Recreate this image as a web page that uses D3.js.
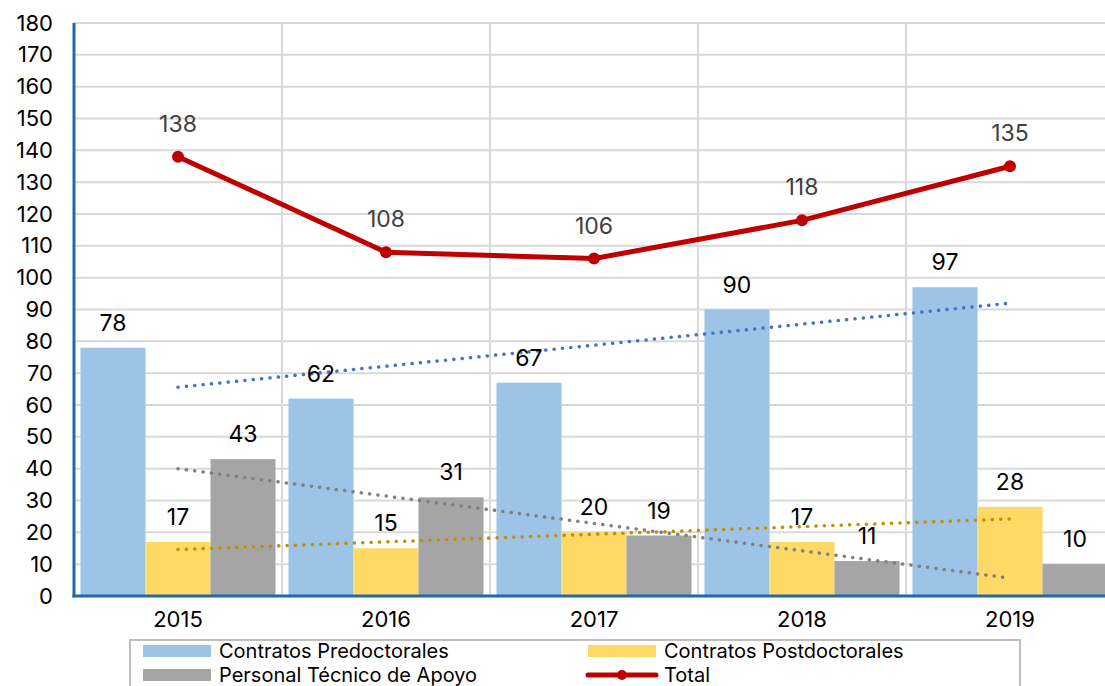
<!DOCTYPE html>
<html>
<head>
<meta charset="utf-8">
<script src="https://cdn.jsdelivr.net/npm/d3@7/dist/d3.min.js"></script>
<style>
  body { margin: 0; background: #fff; }
  text { font-family: Inter, "Noto Sans", sans-serif; }
</style>
</head>
<body>
<svg id="chart" width="1105" height="686"></svg>
<script>
// chart data
var years = ["2015", "2016", "2017", "2018", "2019"];
var predoc = [78, 62, 67, 90, 97];
var postdoc = [17, 15, 20, 17, 28];
var tecnico = [43, 31, 19, 11, 10];
var total = [138, 108, 106, 118, 135];
var yTicks = d3.range(0, 181, 10);

var FONT = "Inter, 'Noto Sans', sans-serif";

var series = [
  { name: "Contratos Predoctorales", values: predoc, color: "#9DC3E6", trend: "#4472C4" },
  { name: "Contratos Postdoctorales", values: postdoc, color: "#FFD966", trend: "#BF9000" },
  { name: "Personal Técnico de Apoyo", values: tecnico, color: "#A5A5A5", trend: "#7F7F7F" }
];

var svg = d3.select("#chart");
var mLeft = 74, mTop = 23, mBottom = 596, mRight = 1114;

var x = d3.scaleBand().domain(years).range([mLeft, mRight]);
var xInner = d3.scaleBand().domain([0, 1, 2])
  .range([0, x.bandwidth()]).paddingOuter(0.1);
var y = d3.scaleLinear().domain([0, 180]).range([mBottom, mTop]);

// grid
var grid = svg.append("g");
grid.selectAll(".hg").data(yTicks.slice(1)).enter().append("line")
  .attr("x1", mLeft).attr("x2", 1105)
  .attr("y1", function (d) { return y(d); }).attr("y2", function (d) { return y(d); })
  .attr("stroke", "#D9D9D9").attr("stroke-width", 2);
grid.selectAll(".vg").data(years.slice(1)).enter().append("line")
  .attr("x1", function (d) { return x(d); }).attr("x2", function (d) { return x(d); })
  .attr("y1", mTop).attr("y2", mBottom)
  .attr("stroke", "#D9D9D9").attr("stroke-width", 2);

// bars
series.forEach(function (s, si) {
  var g = svg.append("g");
  g.selectAll("rect").data(s.values).enter().append("rect")
    .attr("x", function (d, i) { return x(years[i]) + xInner(si); })
    .attr("width", xInner.bandwidth())
    .attr("y", function (d) { return y(d); })
    .attr("height", function (d) { return mBottom - y(d); })
    .attr("fill", s.color);
});

// linear trendlines
series.forEach(function (s) {
  var n = s.values.length;
  var mx = (n - 1) / 2, my = d3.mean(s.values);
  var num = 0, den = 0;
  s.values.forEach(function (v, i) { num += (i - mx) * (v - my); den += (i - mx) * (i - mx); });
  var slope = num / den;
  var fit = function (i) { return my + slope * (i - mx); };
  svg.append("line")
    .attr("x1", x(years[0]) + x.bandwidth() / 2).attr("y1", y(fit(0)))
    .attr("x2", x(years[n - 1]) + x.bandwidth() / 2).attr("y2", y(fit(n - 1)))
    .attr("stroke", s.trend).attr("stroke-width", 3.5)
    .attr("stroke-linecap", "round").attr("stroke-dasharray", "0.1 8.3");
});

// bar labels
series.forEach(function (s, si) {
  svg.append("g").selectAll("text").data(s.values).enter().append("text")
    .attr("x", function (d, i) { return x(years[i]) + xInner(si) + xInner.bandwidth() / 2; })
    .attr("y", function (d) { return y(d) - 17; })
    .attr("text-anchor", "middle").attr("font-size", 23).attr("fill", "#000")
    .text(function (d) { return d; });
});

// total line
var cx = function (d, i) { return x(years[i]) + x.bandwidth() / 2; };
svg.append("path").datum(total)
  .attr("d", d3.line().x(cx).y(function (d) { return y(d); }))
  .attr("fill", "none").attr("stroke", "#C00000").attr("stroke-width", 5)
  .attr("stroke-linejoin", "round");
svg.append("g").selectAll("circle").data(total).enter().append("circle")
  .attr("cx", cx).attr("cy", function (d) { return y(d); }).attr("r", 6)
  .attr("fill", "#C00000");
svg.append("g").selectAll("text").data(total).enter().append("text")
  .attr("x", cx).attr("y", function (d) { return y(d) - 25; })
  .attr("text-anchor", "middle").attr("font-size", 23).attr("fill", "#404040")
  .text(function (d) { return d; });

// axes
var yAxis = svg.append("g").attr("transform", "translate(" + mLeft + ",0)")
  .call(d3.axisLeft(y).tickValues(yTicks).tickSize(0).tickPadding(21));
yAxis.select(".domain").remove();
yAxis.selectAll("text").attr("font-size", 22).attr("fill", "#000").style("font-family", FONT);
var xAxis = svg.append("g").attr("transform", "translate(0," + mBottom + ")")
  .call(d3.axisBottom(x).tickSize(0).tickPadding(15));
xAxis.select(".domain").remove();
xAxis.selectAll("text").attr("font-size", 22).attr("fill", "#000").style("font-family", FONT);

svg.append("line").attr("x1", mLeft).attr("x2", mLeft).attr("y1", mTop).attr("y2", mBottom + 1.5)
  .attr("stroke", "#1F6BA8").attr("stroke-width", 3);
svg.append("line").attr("x1", mLeft - 1.5).attr("x2", 1105).attr("y1", mBottom).attr("y2", mBottom)
  .attr("stroke", "#1F6BA8").attr("stroke-width", 3);

// legend
var legend = svg.append("g");
legend.append("rect").attr("x", 130).attr("y", 640).attr("width", 890).attr("height", 60)
  .attr("fill", "#fff").attr("stroke", "#BFBFBF").attr("stroke-width", 2);
var items = [
  { name: series[0].name, color: series[0].color, lx: 143, ly: 651 },
  { name: series[1].name, color: series[1].color, lx: 588, ly: 651 },
  { name: series[2].name, color: series[2].color, lx: 143, ly: 675 },
  { name: "Total", color: "#C00000", lx: 588, ly: 675, line: true }
];
items.forEach(function (it) {
  if (it.line) {
    legend.append("line").attr("x1", it.lx).attr("x2", it.lx + 68)
      .attr("y1", it.ly).attr("y2", it.ly)
      .attr("stroke", it.color).attr("stroke-width", 5).attr("stroke-linecap", "round");
    legend.append("circle").attr("cx", it.lx + 34).attr("cy", it.ly).attr("r", 5).attr("fill", it.color);
  } else {
    legend.append("rect").attr("x", it.lx).attr("y", it.ly - 6).attr("width", 68).attr("height", 12)
      .attr("fill", it.color);
  }
  legend.append("text").attr("x", it.lx + 76).attr("y", it.ly).attr("dy", "0.35em")
    .attr("font-size", 20).attr("fill", "#000").text(it.name);
});
</script>
</body>
</html>
